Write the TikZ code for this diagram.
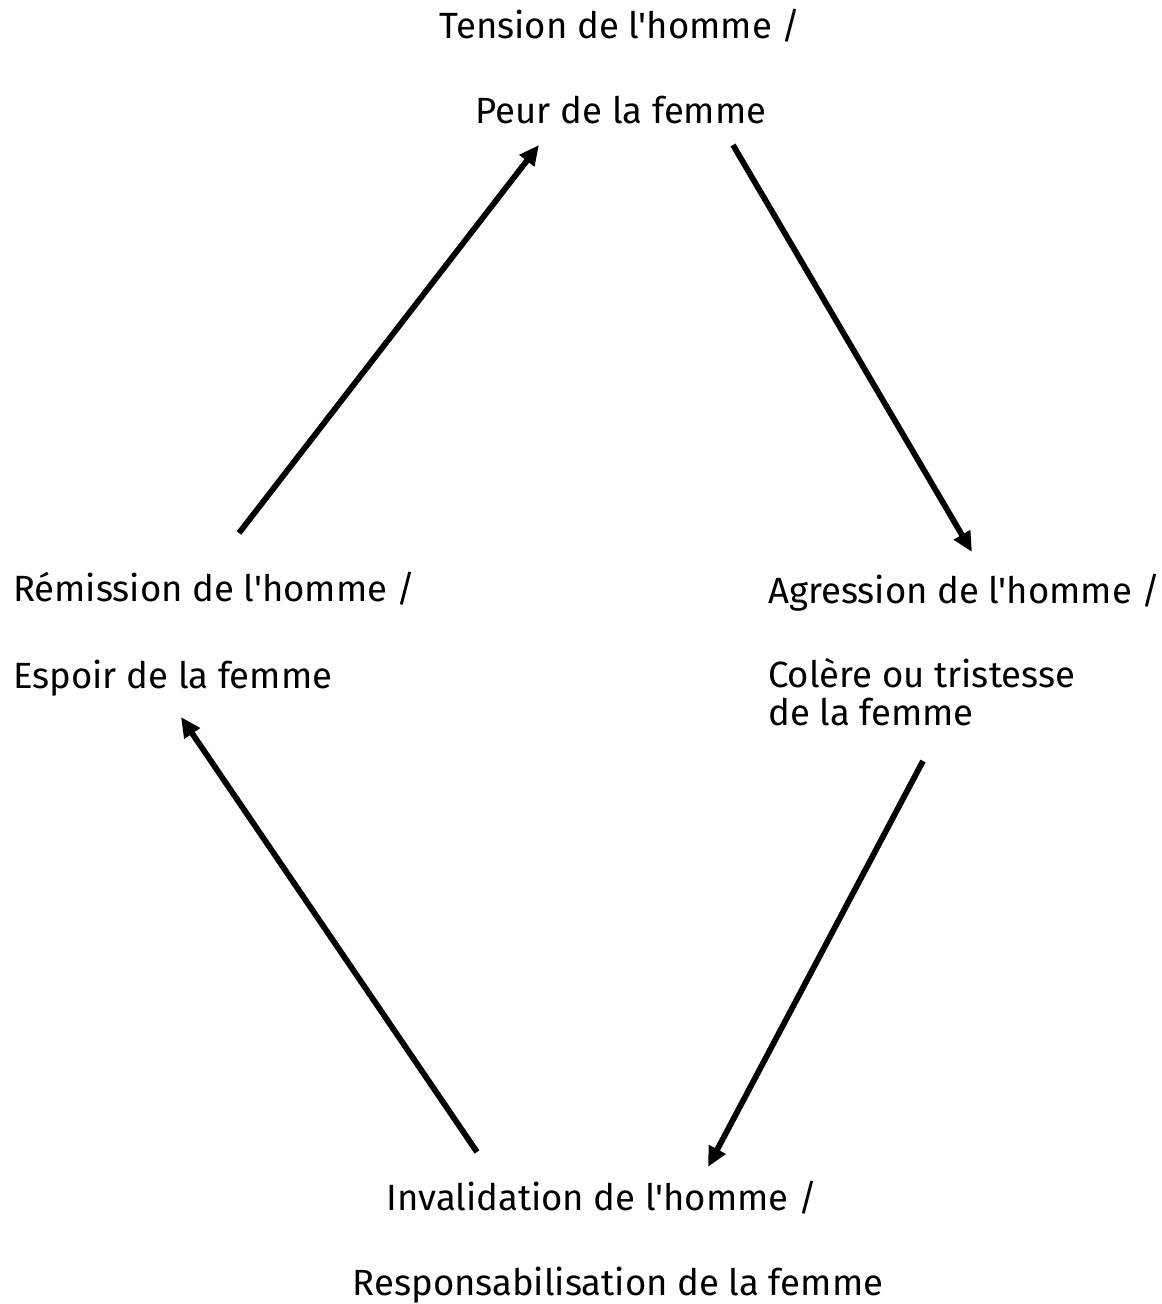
\documentclass[tikz,border=0pt]{standalone}
\usepackage{fontspec}
\setmainfont{Fira Sans}[Ligatures=TeXOff]
\usetikzlibrary{arrows.meta}
\begin{document}
\begin{tikzpicture}[x=1pt,y=-1pt,
  lbl/.style={inner sep=0pt,font=\fontsize{36.5}{38}\selectfont},
  cyc/.style={line width=5.8pt,-{Triangle[length=20pt,width=18pt]}}]
\useasboundingbox (0,0) rectangle (1162,1304);
\node[lbl,anchor=base] (t1) at (620,38) {Tension de l'homme /};
\node[lbl,anchor=base] (t2) at (621,123) {Peur de la femme};
\node[lbl,anchor=base west] (r1) at (13,601) {Rémission de l'homme /};
\node[lbl,anchor=base west] (r2) at (13,688) {Espoir de la femme};
\node[lbl,anchor=base west] (a1) at (768,603) {Agression de l'homme /};
\node[lbl,anchor=base west] (a2) at (768,687) {Colère ou tristesse};
\node[lbl,anchor=base west] (a3) at (768,725) {de la femme};
\node[lbl,anchor=base] (i1) at (602,1210) {Invalidation de l'homme /};
\node[lbl,anchor=base] (i2) at (618,1295) {Responsabilisation de la femme};
\coordinate (p1s) at (239,533);
\coordinate (p1e) at (539,145);
\coordinate (p2s) at (733,145);
\coordinate (p2e) at (972,552);
\coordinate (p3s) at (923,761);
\coordinate (p3e) at (708,1167);
\coordinate (p4s) at (477,1152);
\coordinate (p4e) at (181,717);
\draw[cyc] (p1s) -- (p1e);
\draw[cyc] (p2s) -- (p2e);
\draw[cyc] (p3s) -- (p3e);
\draw[cyc] (p4s) -- (p4e);
\end{tikzpicture}
\end{document}
